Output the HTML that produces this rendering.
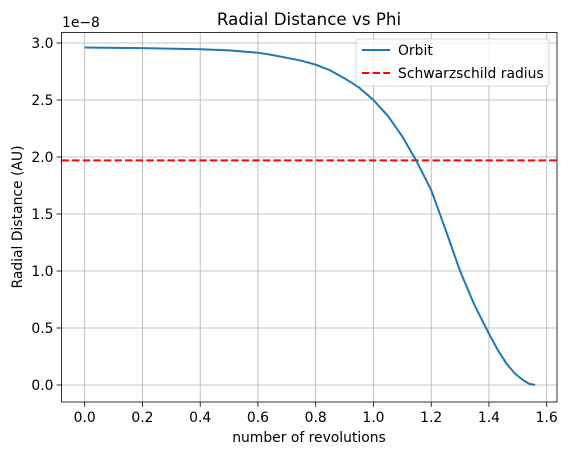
<!DOCTYPE html>
<html><head><meta charset="utf-8"><style>
body{margin:0;background:#fff;font-family:"DejaVu Sans","Liberation Sans",sans-serif}
text{font-family:"DejaVu Sans","Liberation Sans",sans-serif}
</style></head><body>
<svg id="chart" width="567" height="455" xmlns="http://www.w3.org/2000/svg">
<rect width="567" height="455" fill="#fff"/>
<g id="grid"></g><g id="series"></g><g id="axes"></g>
</svg>
<script>
const xTicks=[0,0.2,0.4,0.6,0.8,1.0,1.2,1.4,1.6];
const xTickLabels=["0.0","0.2","0.4","0.6","0.8","1.0","1.2","1.4","1.6"];
const yTicks=[0,0.5,1.0,1.5,2.0,2.5,3.0];
const yTickLabels=["0.0","0.5","1.0","1.5","2.0","2.5","3.0"];
const orbitX=[0,0.2,0.4,0.5,0.6,0.65,0.7,0.75,0.8,0.85,0.9,0.95,1.0,1.05,1.1,1.15,1.2,1.25,1.3,1.35,1.4,1.43,1.46,1.49,1.52,1.54,1.56];
const orbitY=[2.96,2.955,2.945,2.935,2.915,2.895,2.87,2.845,2.81,2.76,2.69,2.61,2.5,2.36,2.18,1.96,1.71,1.36,1.0,0.7,0.45,0.31,0.19,0.1,0.04,0.01,0];
const schwarzschild=1.97;
const L=61.5,R=557,T=32.5,B=402;
const sx=v=>84.7+v*(546.7-84.7)/1.6;
const sy=v=>385-v*114;
const NS="http://www.w3.org/2000/svg";
function mk(p,tag,a,txt){const e=document.createElementNS(NS,tag);for(const k in a)e.setAttribute(k,a[k]);if(txt!==undefined)e.textContent=txt;p.appendChild(e);return e;}
const g=document.getElementById('grid'),s=document.getElementById('series'),ax=document.getElementById('axes');
xTicks.forEach((v,i)=>{const x=sx(v);
const l=mk(g,'line',{x1:x,x2:x,y1:T,y2:B,stroke:'#b0b0b0','stroke-width':0.8});


mk(ax,'line',{x1:x,x2:x,y1:B,y2:B+4.9,stroke:'#000','stroke-width':0.8});
const t=mk(ax,'text',{x:x,y:B+20,'font-size':13.9,'text-anchor':'middle'},xTickLabels[i]);

});
yTicks.forEach((v,i)=>{const y=sy(v);
const l=mk(g,'line',{x1:L,x2:R,y1:y,y2:y,stroke:'#b0b0b0','stroke-width':0.8});


mk(ax,'line',{x1:L-4.9,x2:L,y1:y,y2:y,stroke:'#000','stroke-width':0.8});
const t=mk(ax,'text',{x:L-8,y:y+5,'font-size':13.9,'text-anchor':'end'},yTickLabels[i]);

});
const hl=mk(s,'line',{x1:L,x2:R,y1:sy(schwarzschild),y2:sy(schwarzschild),stroke:'#ff0000','stroke-width':2,'stroke-dasharray':'7.4,3.2'});


const pts=orbitX.map((v,i)=>sx(v)+','+sy(orbitY[i])).join(' ');
const pl=mk(s,'polyline',{points:pts,fill:'none',stroke:'#1f77b4','stroke-width':2,'stroke-linejoin':'round'});


mk(ax,'rect',{x:L,y:T,width:R-L,height:B-T,fill:'none',stroke:'#000','stroke-width':0.8});
</script>
<svg width="567" height="455" style="position:absolute;left:0;top:0" xmlns="http://www.w3.org/2000/svg">
<text x="309" y="25" font-size="16.7" text-anchor="middle">Radial Distance vs Phi</text>
<text x="309" y="442" font-size="13.9" text-anchor="middle">number of revolutions</text>
<text x="0" y="0" font-size="13.9" text-anchor="middle" transform="translate(22,217) rotate(-90)">Radial Distance (AU)</text>
<text x="62" y="27" font-size="13.9">1e−8</text>
<g>
<rect x="356" y="39" width="193" height="47" rx="3" fill="#fff" fill-opacity="0.8" stroke="#ccc" stroke-width="0.8"/>
<line x1="362" x2="390" y1="50" y2="50" stroke="#1f77b4" stroke-width="2"/>
<text x="398" y="55" font-size="13.9">Orbit</text>
<line x1="362" x2="390" y1="73" y2="73" stroke="#ff0000" stroke-width="2" stroke-dasharray="7.4,3.2"/>
<text x="398" y="78" font-size="13.9">Schwarzschild radius</text>
</g>
</svg>
</body></html>
